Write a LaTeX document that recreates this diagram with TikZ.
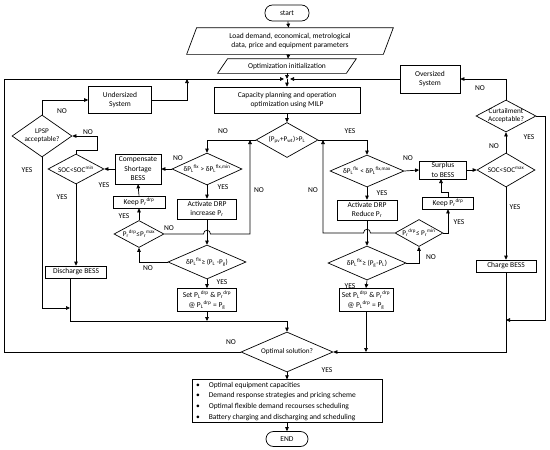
\documentclass[tikz,border=0pt]{standalone}
\usepackage{fontspec}
\setmainfont{Carlito}
\usetikzlibrary{arrows.meta,shapes.geometric,calc}
\newcommand\myfs{\fontsize{7.5}{9.5}\selectfont}
\newcommand\dfs{\fontsize{7.2}{8.5}\selectfont}
\newcommand\ssb[3]{#1\textsubscript{#2}\textsuperscript{#3}}
\newcommand\dtxt[1]{\makebox[0pt]{#1}}
\newcommand\dtwo[2]{\makebox[0pt]{\begin{tabular}{@{}c@{}}#1\\#2\end{tabular}}}
\begin{document}
\begin{tikzpicture}[x=1pt,y=-1pt,line width=0.7pt,
  box/.style={draw,rectangle,inner sep=1pt,align=center,font=\myfs},
  term/.style={draw,rectangle,rounded corners=7.5pt,inner sep=1pt,font=\myfs,minimum width=44pt,minimum height=16pt},
  dia/.style={draw,diamond,inner sep=0pt,font=\dfs},
  ar/.style={-{Triangle[length=4pt,width=3.6pt]}},
  lbl/.style={font=\myfs,inner sep=0pt}]
\useasboundingbox (0,0) rectangle (550,450);
% top
\node[term] (start) at (287,13) {start};
\node[inner sep=0pt,minimum width=196pt,minimum height=26pt,align=center,font=\myfs] (load) at (290,41)
  {Load demand, economical, metrological\\data, price and equipment parameters};
\draw ($(load.south west)+(-5,0)$) -- ($(load.north west)+(5,0)$) -- ($(load.north east)+(5,0)$) -- ($(load.south east)+(-5,0)$) -- cycle;
\node[inner sep=0pt,minimum width=128pt,minimum height=14pt,font=\myfs] (init) at (287,66) {Optimization initialization};
\draw ($(init.south west)+(-5,0)$) -- ($(init.north west)+(5,0)$) -- ($(init.north east)+(5,0)$) -- ($(init.south east)+(-5,0)$) -- cycle;
\coordinate (m) at (287,79);
\node[box,minimum width=146pt,minimum height=26pt] (cap) at (287,100) {Capacity planning and operation\\optimization using MILP};
\node[box,minimum width=63pt,minimum height=27pt] (under) at (120,100) {Undersized\\System};
\node[box,minimum width=60pt,minimum height=28pt] (over) at (430,79) {Oversized\\System};
\node[dia,minimum width=62pt,minimum height=35pt] (d0) at (287,140) {\dtxt{(P\textsubscript{pv}+P\textsubscript{wt})>P\textsubscript{L}}};
% left side
\node[dia,minimum width=60pt,minimum height=42pt] (lpsp) at (42,136) {\dtwo{LPSP}{acceptable?}};
\node[dia,minimum width=56pt,minimum height=30pt] (socmin) at (76,169) {\dtxt{SOC<SOC\textsuperscript{min}}};
\node[box,minimum width=46pt,minimum height=30pt,inner sep=0pt] (comp) at (138,169) {Compensate\\Shortage\\BESS};
\node[dia,minimum width=70pt,minimum height=32pt] (d1l) at (207,169) {\dtxt{δ\ssb{P}{L}{flx} > δ\ssb{P}{L}{flx,min}}};
\node[box,minimum width=59pt,minimum height=20pt,inner sep=0pt] (actl) at (207,209) {Activate DRP\\increase P\textsubscript{r}};
\node[box,minimum width=52pt,minimum height=12pt,inner sep=0pt] (keepl) at (139,202) {Keep \ssb{P}{r}{drp}};
\node[dia,minimum width=50pt,minimum height=27pt] (prl) at (139,234) {\dtxt{\ssb{P}{r}{drp}≤\ssb{P}{r}{max}}};
\node[dia,minimum width=78pt,minimum height=34pt] (d2l) at (207,262) {\dtxt{δ\ssb{P}{L}{flx}≥ (P\textsubscript{L} -P\textsubscript{g})}};
\node[box,minimum width=59pt,minimum height=23pt,inner sep=0pt] (setl) at (207,300) {Set \ssb{P}{L}{drp} \& \ssb{P}{r}{drp}\\@ \ssb{P}{L}{drp} = P\textsubscript{g}};
\node[box,minimum width=61pt,minimum height=12pt,inner sep=0pt] (dis) at (76,272) {Discharge BESS};
% right side
\node[dia,minimum width=74pt,minimum height=32pt] (d1r) at (367,171) {\dtxt{δ\ssb{P}{L}{flx} < δ\ssb{P}{L}{flx,max}}};
\node[box,minimum width=47pt,minimum height=18pt,inner sep=0pt] (surp) at (443,170) {Surplus\\to BESS};
\node[dia,minimum width=58pt,minimum height=34pt] (socmax) at (506,170) {\dtxt{SOC<SOC\textsuperscript{max}}};
\node[dia,minimum width=60pt,minimum height=32pt] (curt) at (506,116) {\dtwo{Curtailment}{Acceptable?}};
\node[box,minimum width=60pt,minimum height=20pt,inner sep=0pt] (actr) at (367,210) {Activate DRP\\Reduce P\textsubscript{r}};
\node[box,minimum width=51pt,minimum height=12pt,inner sep=0pt] (keepr) at (448,203) {Keep \ssb{P}{r}{drp}};
\node[dia,minimum width=48pt,minimum height=27pt] (prr) at (419,233) {\dtxt{\ssb{P}{r}{drp}≤ \ssb{P}{r}{min}}};
\node[dia,minimum width=78pt,minimum height=34pt] (d2r) at (367,263) {\dtxt{δ\ssb{P}{L}{flx}≥ (P\textsubscript{g}-P\textsubscript{L})}};
\node[box,minimum width=54pt,minimum height=23pt,inner sep=0pt] (setr) at (366,300) {Set \ssb{P}{L}{drp} \& \ssb{P}{r}{drp}\\@ \ssb{P}{L}{drp} = P\textsubscript{g}};
\node[box,minimum width=60pt,minimum height=12pt,inner sep=0pt] (chg) at (506,266) {Charge BESS};
% bottom
\node[dia,minimum width=92pt,minimum height=40pt] (opt) at (287,352) {\dtxt{Optimal solution?}};
\node[box,minimum width=190pt,minimum height=40pt,inner sep=0pt] (res) at (287,401)
  {\renewcommand\arraystretch{1.12}\begin{tabular}{@{}l@{\hspace{9pt}}l@{}}
  • & Optimal equipment capacities\\
  • & Demand response strategies and pricing scheme\\
  • & Optimal flexible demand recourses scheduling\\
  • & Battery charging and discharging and scheduling
  \end{tabular}\hspace{22pt}};
\node[term,minimum width=42pt,minimum height=15pt] (end) at (287,439) {END};
% connectors top
\draw[ar] (start) -- (load);
\draw[ar] (load) -- (init);
\draw[ar] (init) -- (m);
\draw[ar] (m) -- (cap);
\draw[ar] (cap) -- (d0);
\draw[ar] (over.west) -- ($(m)+(3,0)$);
\draw[ar] (under.east) -- (187,100) -- (187,79);
\draw[ar] (opt.west) -- (4,352) -- (4,79) -- ($(m)+(-3,0)$);
% left connectors
\draw[ar] (d0.west) -- (207,140) -- (d1l.north);
\draw[ar] (d1l.west) -- (comp.east);
\draw[ar] (comp.west) -- (socmin.east);
\draw[ar] (socmin.north) -- (76,150) -- (97,150) -- (97,136) -- (lpsp.east);
\draw[ar] (lpsp.north) -- (42,100) -- (under.west);
\draw[ar] (lpsp.south) -- (42,308) -- (70,308);
\draw[ar] (socmin.south) -- (dis.north);
\draw[ar] (d1l.south) -- (actl.north);
\draw[ar] (actl.south) -- (d2l.north);
\draw[ar] (d2l.west) -- (139,262) -- (prl.south);
\draw[ar] (prl.north) -- (keepl.south);
\draw[ar] (keepl.north) -- (comp.south);
\draw[ar] (prl.east) -- (203.5,234) .. controls (203.5,229) and (210.5,229) .. (210.5,234) -- (250,234) -- (250,140);
\draw[ar] (d2l.south) -- (setl.north);
\draw[ar] (setl.south) -- (207,321);
\draw[ar] ($(dis.south)+(-6,0)$) -- (70,321) -- (287,321) -- (opt.north);
% right connectors
\draw[ar] (d0.east) -- (367,140) -- (d1r.north);
\draw[ar] (d1r.east) -- (surp.west);
\draw[ar] (surp.east) -- (socmax.west);
\draw[ar] (socmax.north) -- (curt.south);
\draw[ar] (curt.north) -- (506,79) -- (over.east);
\draw[ar] (curt.east) -- (545,116) -- (545,320) -- (506,320);
\draw[ar] (socmax.south) -- (chg.north);
\draw[ar] (chg.south) -- (506,352) -- (opt.east);
\draw[ar] (d1r.south) -- (actr.north);
\draw[ar] (actr.south) -- (d2r.north);
\draw[ar] (d2r.east) -- (419,263) -- (prr.south);
\draw[ar] (prr.east) -- (448,233) -- (keepr.south);
\draw[ar] (keepr.north) -- (448,192) -- (441,192) -- (441,179);
\draw[ar] (prr.west) -- (370.5,233) .. controls (370.5,228) and (363.5,228) .. (363.5,233) -- (323,233) -- (323,140);
\draw[ar] (d2r.south) -- (setr.north);
\draw[ar] (setr.south) -- (366,352);
% bottom connectors
\draw[ar] (opt.south) -- (res.north);
\draw[ar] (res.south) -- (end.north);
% labels
\node[lbl] at (223,131) {NO};
\node[lbl] at (350,131) {YES};
\node[lbl] at (259,190) {NO};
\node[lbl] at (313,190) {NO};
\node[lbl] at (62,111) {NO};
\node[lbl] at (27,170) {YES};
\node[lbl] at (88,132) {NO};
\node[lbl] at (104,185) {YES};
\node[lbl] at (62,197) {YES};
\node[lbl] at (178,158) {NO};
\node[lbl] at (223,187) {YES};
\node[lbl] at (124,216) {YES};
\node[lbl] at (169,228) {NO};
\node[lbl] at (148,268) {NO};
\node[lbl] at (222,282) {YES};
\node[lbl] at (408,158) {NO};
\node[lbl] at (382,193) {YES};
\node[lbl] at (494,146) {NO};
\node[lbl] at (529,137) {YES};
\node[lbl] at (480,88) {NO};
\node[lbl] at (515,207) {YES};
\node[lbl] at (459,222) {YES};
\node[lbl] at (431,257) {NO};
\node[lbl] at (350,286) {YES};
\node[lbl] at (231,342) {NO};
\node[lbl] at (327,370) {YES};
\end{tikzpicture}
\end{document}
